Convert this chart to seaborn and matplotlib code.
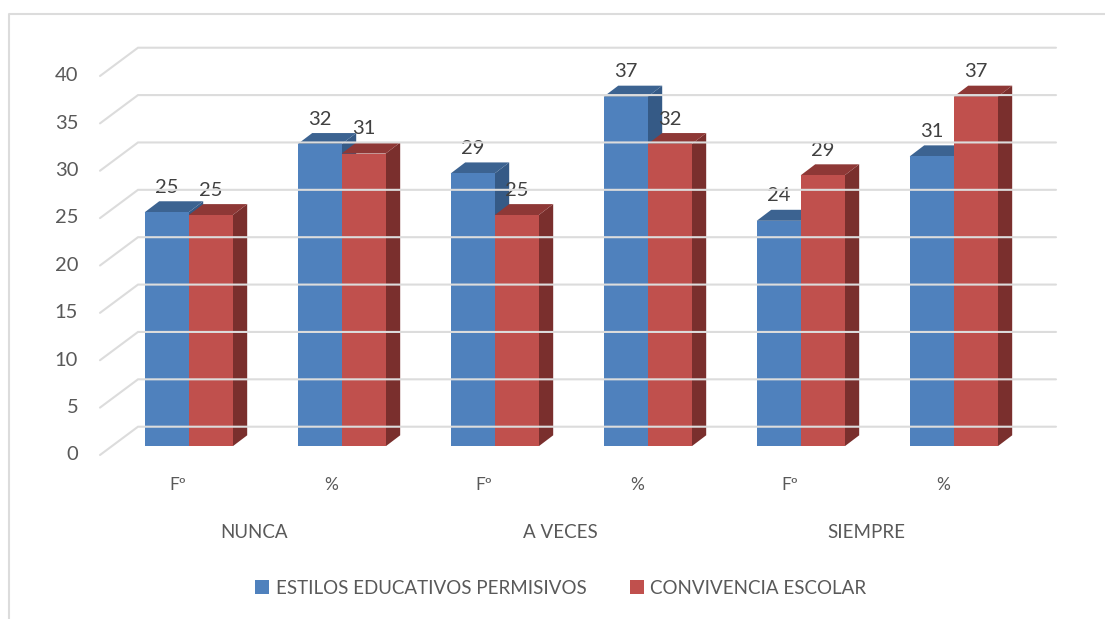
import matplotlib
matplotlib.use('Agg')
import matplotlib.pyplot as plt
from matplotlib.lines import Line2D
from matplotlib.patches import Polygon
from matplotlib.transforms import Affine2D, IdentityTransform
import pandas as pd
import seaborn as sns

groups = ['NUNCA', 'A VECES', 'SIEMPRE']
measures = ['Fº', '%', 'Fº', '%', 'Fº', '%']
series_names = ['ESTILOS EDUCATIVOS PERMISIVOS', 'CONVIVENCIA ESCOLAR']
estilos = [24.7, 31.9, 28.8, 36.9, 23.8, 30.6]
convivencia = [24.4, 30.9, 24.4, 31.9, 28.6, 36.9]
estilos_labels = ['25', '32', '29', '37', '24', '31']
convivencia_labels = ['25', '31', '25', '32', '29', '37']
y_ticks = [0, 5, 10, 15, 20, 25, 30, 35, 40]

front_colors = ['#4F81BD', '#C0504D']
top_colors = ['#3C6391', '#8E3836']
side_colors = ['#355A86', '#7A2F2D']
grid_color = '#DCDCDC'
text_color = '#595959'
label_color = '#404040'

sns.set_theme(style='white')
plt.rcParams['font.family'] = ['Lato', 'DejaVu Sans']

W, H = 1105, 619
fig = plt.figure(figsize=(W / 100, H / 100), dpi=100)
left, right, bottom, top = 112.2, 1030.2, 446.3, 67.3
ax = fig.add_axes([left / W, 1 - bottom / H, (right - left) / W, (bottom - top) / H])

# long table for seaborn, one slot per Fº / % bar
slots = list(range(len(measures)))
df = pd.DataFrame({
    'slot': slots * 2,
    'serie': [series_names[0]] * 6 + [series_names[1]] * 6,
    'valor': estilos + convivencia,
})
sns.barplot(data=df, x='slot', y='valor', hue='serie', hue_order=series_names,
            palette=front_colors, width=0.575, gap=0, saturation=1, errorbar=None,
            linewidth=0, ax=ax, zorder=3)
ax.set_xlim(-0.5, 5.5)
ax.set_ylim(0, 40)
ax.set_xlabel('')
ax.set_ylabel('')
sns.despine(ax=ax, left=True, bottom=True)
ax.patch.set_visible(False)


def px(x, y, dx=0, dy=0):
    a, b = ax.transData.transform((x, y))
    return a + dx, b + dy


# back wall grid with the floor-side diagonals
for v in y_ticks:
    pts = [px(-0.5, v, -12.2, -8.7), px(-0.5, v, 25.8, 19.6), px(5.5, v, 25.8, 19.6)]
    fig.add_artist(Line2D([p[0] for p in pts], [p[1] for p in pts], color=grid_color,
                          lw=1.5, transform=IdentityTransform(), zorder=0.5,
                          solid_joinstyle='miter'))

# depth faces of the bars
depth_x, depth_y = 14.5, 11
for n, container in enumerate(ax.containers):
    for bar in container:
        x0, x1 = bar.get_x(), bar.get_x() + bar.get_width()
        h = bar.get_height()
        side = [px(x1, 0), px(x1, h), px(x1, h, depth_x, depth_y), px(x1, 0, depth_x, depth_y)]
        roof = [px(x0, h), px(x1, h), px(x1, h, depth_x, depth_y), px(x0, h, depth_x, depth_y)]
        for face, col in ((side, side_colors[n]), (roof, top_colors[n])):
            ax.add_patch(Polygon(face, closed=True, facecolor=col, edgecolor='none',
                                 transform=IdentityTransform(), zorder=2 + n))
        bar.set_zorder(2.5 + n)

# value labels
for n, labels in enumerate([estilos_labels, convivencia_labels]):
    for bar, txt in zip(ax.containers[n], labels):
        ax.annotate(txt, (bar.get_x() + bar.get_width() / 2, bar.get_height()),
                    xytext=(0, 25), textcoords='offset pixels', ha='center', va='center',
                    fontsize=14.5, color=label_color, zorder=6, annotation_clip=False)

# axis text
ax.set_yticks(y_ticks)
ax.set_yticklabels([str(v) for v in y_ticks])
ax.tick_params(axis='y', length=0, pad=24.5, labelsize=14.5, labelcolor=text_color)
ax.set_xticks(slots)
ax.set_xticklabels(measures)
ax.tick_params(axis='x', length=0, pad=22, labelsize=12.5, labelcolor=text_color)
for lab in ax.get_yticklabels():
    lab.set_transform(lab.get_transform() + Affine2D().translate(0, -7))
for lab in ax.get_xticklabels():
    lab.set_transform(lab.get_transform() + Affine2D().translate(-11, 0))

for i, g in enumerate(groups):
    ax.annotate(g, (2 * i + 0.5, 0), xytext=(-11, -86), textcoords='offset pixels',
                ha='center', va='center', fontsize=13.5, color=text_color,
                annotation_clip=False)

# legend
handles, names = ax.get_legend_handles_labels()
ax.get_legend().remove()
fig.legend(handles, names, loc='center', bbox_to_anchor=(561 / W, 1 - 588 / H), ncol=2,
           frameon=False, fontsize=13.5, labelcolor=text_color, handlelength=0.75,
           handleheight=0.75, handletextpad=0.35, columnspacing=2.3)

# chart frame, only top and left are inside the crop
fig.add_artist(Line2D([8.5, 8.5, W], [0, H - 13.5, H - 13.5], color=grid_color, lw=1.5,
                      transform=IdentityTransform()))

fig.savefig('out.png', dpi=100)
